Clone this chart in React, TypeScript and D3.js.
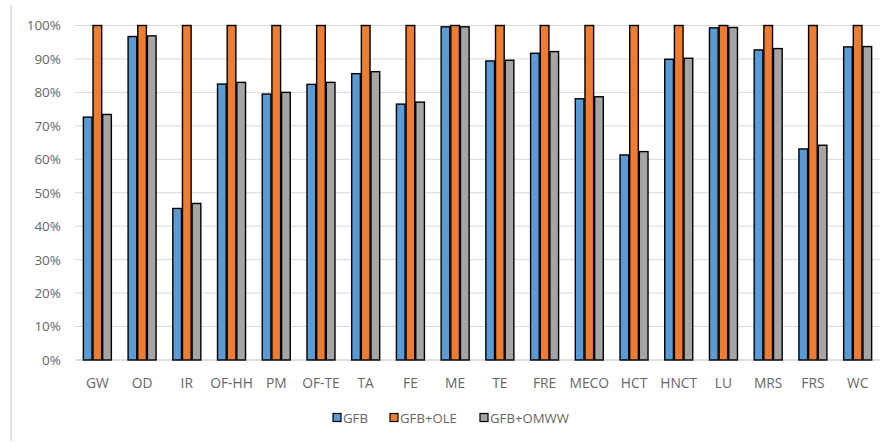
import React from "react";
import * as d3 from "d3";

const categories = ["GW", "OD", "IR", "OF-HH", "PM", "OF-TE", "TA", "FE", "ME", "TE", "FRE", "MECO", "HCT", "HNCT", "LU", "MRS", "FRS", "WC"];
const gfb = [72.6, 96.7, 45.3, 82.5, 79.5, 82.4, 85.6, 76.5, 99.6, 89.4, 91.7, 78.1, 61.3, 89.9, 99.3, 92.7, 63.1, 93.6];
const gfbOle = [100, 100, 100, 100, 100, 100, 100, 100, 100, 100, 100, 100, 100, 100, 100, 100, 100, 100];
const gfbOmww = [73.4, 96.9, 46.8, 83.0, 80.0, 83.0, 86.2, 77.1, 99.6, 89.6, 92.2, 78.7, 62.3, 90.2, 99.4, 93.1, 64.2, 93.7];
const seriesNames = ["GFB", "GFB+OLE", "GFB+OMWW"];
const seriesColors = ["#5B9BD5", "#ED7D31", "#A5A5A5"];
const yTicks = [0, 10, 20, 30, 40, 50, 60, 70, 80, 90, 100];

const W = 893;
const H = 443;
const left = 75;
const right = 880;
const top = 25.5;
const bottom = 360;
const font = "'Open Sans', 'Noto Sans', sans-serif";

export default function App() {
  const series = [gfb, gfbOle, gfbOmww];
  const x = d3.scaleBand<string>().domain(categories).range([left, right]).padding(0);
  const groupW = 29;
  const x1 = d3.scaleBand<number>().domain([0, 1, 2]).range([0, groupW]).padding(0);
  const y = d3.scaleLinear().domain([0, 100]).range([bottom, top]);

  return (
    <svg width={W} height={H} style={{ position: "absolute", left: 0, top: 0, background: "#fff" }}>
      <line x1={11} x2={11} y1={5} y2={441} stroke="#D9D9D9" strokeWidth={1.5} />
      {yTicks.map((t) => (
        <g key={t}>
          <line x1={left} x2={right} y1={y(t)} y2={y(t)} stroke={t === 0 ? "#BFBFBF" : "#D9D9D9"} strokeWidth={1} />
          <text x={61} y={y(t)} dy="0.36em" textAnchor="end" fontFamily={font} fontSize={13.5} fill="#666666">
            {t}%
          </text>
        </g>
      ))}
      {categories.map((c, i) => {
        const cx = (x(c) as number) + x.bandwidth() / 2;
        const gx = cx - groupW / 2;
        return (
          <g key={c}>
            {series.map((s, k) => (
              <rect
                key={k}
                x={gx + (x1(k) as number) + 0.5}
                y={y(s[i])}
                width={x1.bandwidth() - 1}
                height={bottom - y(s[i])}
                fill={seriesColors[k]}
                stroke="#000"
                strokeWidth={1.4}
              />
            ))}
            <text x={cx} y={387.5} textAnchor="middle" fontFamily={font} fontSize={13.8} fill="#666666">
              {c}
            </text>
          </g>
        );
      })}
      {(() => {
        const items = [333, 390, 480];
        return seriesNames.map((n, k) => (
          <g key={n}>
            <rect x={items[k]} y={413.5} width={8} height={8} fill={seriesColors[k]} stroke="#000" strokeWidth={1.2} />
            <text x={items[k] + 10} y={422.5} fontFamily={font} fontSize={13.2} fill="#666666">
              {n}
            </text>
          </g>
        ));
      })()}
    </svg>
  );
}
